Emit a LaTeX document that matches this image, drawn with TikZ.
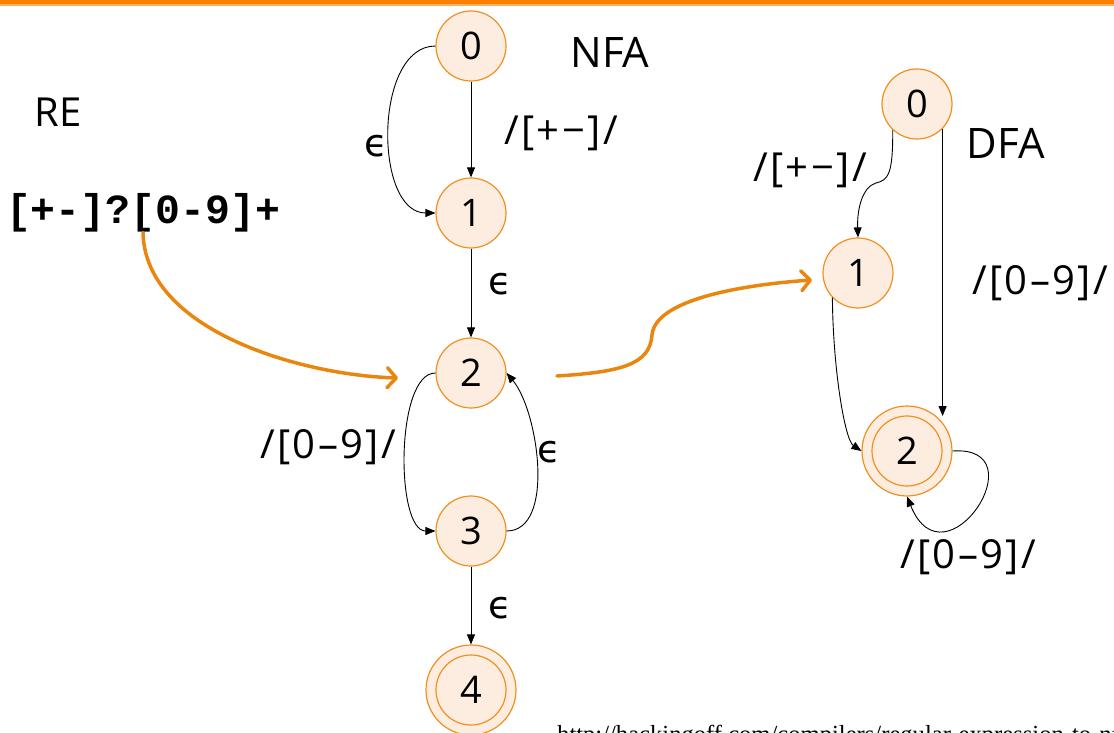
\documentclass[tikz,border=0pt]{standalone}
\usepackage{fontspec}
\setmainfont{Open Sans}
\newfontfamily\lblfamily{Open Sans}[LetterSpace=6]
\newfontfamily\codefont{Liberation Mono}
\newfontfamily\epsfont{DejaVu Sans}
\newfontfamily\urlfont{Liberation Serif}
\usetikzlibrary{arrows.meta}
\definecolor{barorange}{HTML}{FF8000}
\definecolor{barlight}{HTML}{FFB060}
\definecolor{stateorange}{HTML}{F0901E}
\definecolor{statefill}{HTML}{FDEDE0}
\definecolor{flow}{HTML}{E9860F}
\newcommand\lblfont{\lblfamily\fontsize{40}{44}\selectfont}
\newcommand\digfont{\fontsize{38}{40}\selectfont}
\newcommand\epsfontsz{\epsfont\fontsize{38}{40}\selectfont}
\tikzset{
  state/.style={circle, draw=stateorange, fill=statefill, line width=1.2pt,
    minimum size=70pt, inner sep=0pt, font=\digfont},
  accept/.style={state, minimum size=90pt,
    path picture={\draw[stateorange, line width=1.2pt] (path picture bounding box.center) circle (35pt);}},
  edge/.style={draw=black, line width=0.9pt, -{Triangle[length=10pt,width=8pt]}},
  flowarrow/.style={draw=flow, line width=3.5pt, line cap=round,
    -{Straight Barb[length=9pt,width=20pt,line width=3.5pt,round]}},
  lbl/.style={inner sep=0pt, font=\lblfont},
  eps/.style={inner sep=0pt, font=\epsfontsz},
}
\begin{document}
\begin{tikzpicture}[x=1pt,y=-1pt]
\useasboundingbox (0,0) rectangle (1114,733);
\clip (0,0) rectangle (1114,733);
\fill[barorange] (0,0) rectangle (1114,4.5);
\fill[barlight] (0,4.5) rectangle (1114,6);

% labels
\node[inner sep=0pt, font=\fontsize{40}{44}\selectfont] (relbl) at (58,112) {RE};
\node[inner sep=0pt, font=\codefont\bfseries\fontsize{41.5}{44}\selectfont] (re) at (143,213) {[+-]?[0-9]+};
\node[inner sep=0pt, font=\fontsize{42}{46}\selectfont] (nfalbl) at (610,52) {NFA};
\node[inner sep=0pt, font=\fontsize{42}{46}\selectfont] (dfalbl) at (1006,143) {DFA};

% NFA states
\node[state] (n0) at (471,46) {0};
\node[state] (n1) at (471,213) {1};
\node[state] (n2) at (471,373) {2};
\node[state] (n3) at (471,531) {3};
\node[accept] (n4) at (471,690) {4};

% DFA states
\node[state] (d0) at (917,104) {0};
\node[state] (d1) at (858,273) {1};
\node[accept] (d2) at (907,451) {2};

% NFA edges
\draw[edge] (n0) -- (n1);
\draw[edge] (n0.west) to[out=180,in=180,looseness=0.95] (n1.west);
\draw[edge] (n1) -- (n2);
\draw[edge] (n2.west) to[out=180,in=180,looseness=0.65] (n3.west);
\draw[edge] (n3.east) to[out=0,in=-50,looseness=0.8] (n2.east);
\draw[edge] (n3) -- (n4);

\node[eps] (e01) at (376,146) {ϵ};
\node[lbl] (l01) at (561,133) {/[+−]/};
\node[eps] (e12) at (500,284) {ϵ};
\node[lbl] (l23) at (328,447) {/[0–9]/};
\node[eps] (e32) at (549,452) {ϵ};
\node[eps] (e34) at (500,608) {ϵ};

% DFA edges
\draw[edge] (d0.-133) .. controls (893,175) and (888,180) .. (876,183)
   .. controls (862,187) and (857,210) .. (d1.north);
\draw[edge] (d0.-44) -- (d0.-44 |- d2.50);
\draw[edge] (d1.-136) .. controls (833,370) and (845,440) .. (d2.west);
\draw[edge] (d2.east) .. controls (1040,445) and (945,590) .. (d2.south);

\node[lbl] (ld01) at (810,170) {/[+−]/};
\node[lbl] (ld02) at (1040,283) {/[0–9]/};
\node[lbl] (ld22) at (968,557) {/[0–9]/};

% flow arrows
\coordinate (reEnd) at (398,378);
\coordinate (nfaStart) at (557,376);
\coordinate (dfaEnd) at (812,280);
\draw[flowarrow] (re.south) .. controls (145,330) and (300,375) .. (reEnd);
\draw[flowarrow] (nfaStart) .. controls (620,372) and (650,365) .. (652,335)
   .. controls (655,300) and (740,285) .. (dfaEnd);

% source url
\node[anchor=base west, inner sep=0pt, font=\urlfont\fontsize{24.6}{28}\selectfont] (url) at (557,742)
  {http://hackingoff.com/compilers/regular-expression-to-nfa-dfa};
\end{tikzpicture}
\end{document}
